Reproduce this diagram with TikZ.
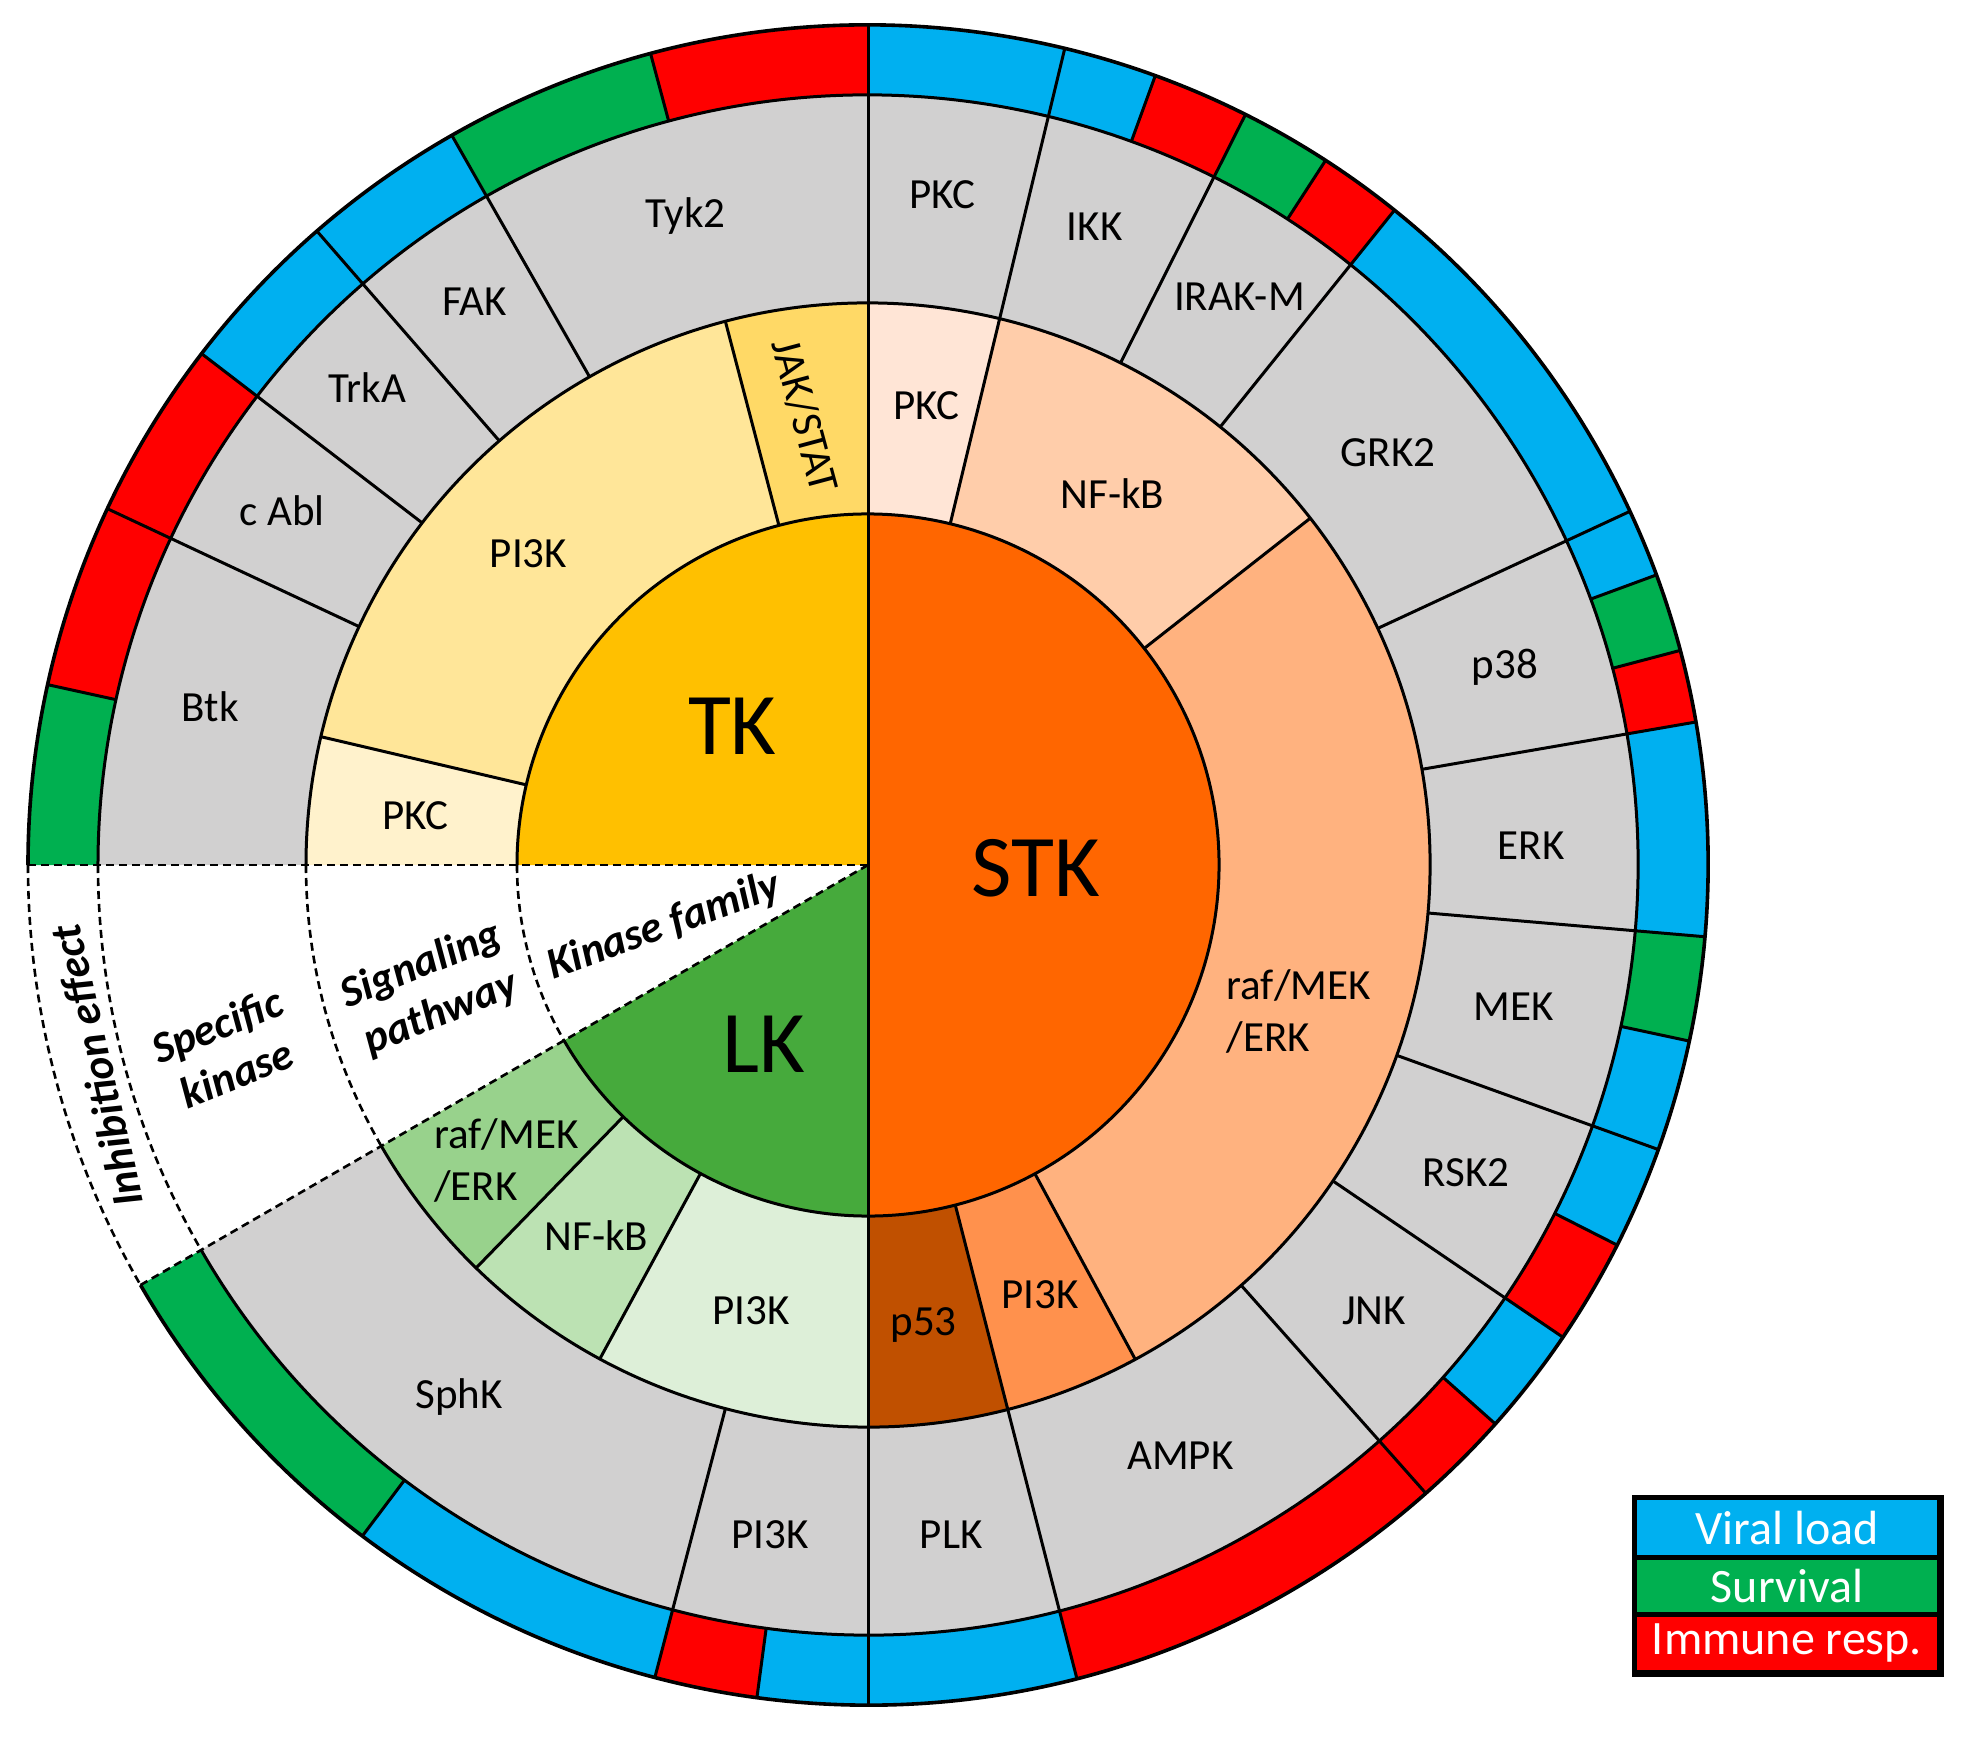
\documentclass[tikz,border=0pt]{standalone}
\usepackage{fontspec}
\setmainfont{Carlito}
\definecolor{cTK}{HTML}{FFC000}
\definecolor{cSTK}{HTML}{FF6600}
\definecolor{cLK}{HTML}{46AA3C}
\definecolor{cJAK}{HTML}{FFD966}
\definecolor{cTPI}{HTML}{FFE699}
\definecolor{cTPKC}{HTML}{FFF2CC}
\definecolor{cSPKC}{HTML}{FFE5D6}
\definecolor{cSNF}{HTML}{FFCDAA}
\definecolor{cSRAF}{HTML}{FFB27F}
\definecolor{cSPI}{HTML}{FF914D}
\definecolor{cP53}{HTML}{C05000}
\definecolor{cLPI}{HTML}{DDEFD8}
\definecolor{cLNF}{HTML}{BCE2B3}
\definecolor{cLRAF}{HTML}{98D28C}
\definecolor{cGray}{HTML}{D1D0D0}
\definecolor{cBlue}{HTML}{00B0F0}
\definecolor{cGreen}{HTML}{00B050}
\definecolor{cRed}{HTML}{FF0000}
\newcommand\annsec[5]{\fill[#5] (#3:#1) arc[start angle=#3,end angle=#4,radius=#1*0.5pt] -- (#4:#2) arc[start angle=#4,end angle=#3,radius=#2*0.5pt] -- cycle;}
\newcommand\piesec[4]{\fill[#4] (0,0) -- (#2:#1) arc[start angle=#2,end angle=#3,radius=#1*0.5pt] -- cycle;}
\begin{document}
\begin{tikzpicture}[x=0.5pt,y=0.5pt,
  bd/.style={line width=1.5pt,line join=round},
  dsh/.style={line width=1.3pt,dash pattern=on 4pt off 2.5pt},
  lab/.style={font=\fontsize{21.5}{26}\selectfont,inner sep=0pt},
  big/.style={font=\fontsize{44}{50}\selectfont,inner sep=0pt},
  ital/.style={font=\fontsize{22}{26}\selectfont\bfseries\itshape,align=center,inner sep=0pt},
  leg/.style={font=\fontsize{24}{28}\selectfont,text=white,inner sep=0pt}]
\useasboundingbox (-868,-880) rectangle (1105,865);
% level 1
\piesec{351}{90}{180}{cTK}
\piesec{351}{-90}{90}{cSTK}
\piesec{351}{210}{270}{cLK}
% level 2
\annsec{351}{562}{90}{104.7}{cJAK}
\annsec{351}{562}{104.7}{166.8}{cTPI}
\annsec{351}{562}{166.8}{180}{cTPKC}
\annsec{351}{562}{76.4}{90}{cSPKC}
\annsec{351}{562}{38.1}{76.4}{cSNF}
\annsec{351}{562}{-61.6}{38.1}{cSRAF}
\annsec{351}{562}{-75.6}{-61.6}{cSPI}
\annsec{351}{562}{-90}{-75.6}{cP53}
\annsec{351}{562}{-118.5}{-90}{cLPI}
\annsec{351}{562}{-134.2}{-118.5}{cLNF}
\annsec{351}{562}{-150}{-134.2}{cLRAF}
% level 3
\annsec{562}{770}{210}{540}{cGray}
% level 4
\annsec{770}{840}{90}{105}{cRed}
\annsec{770}{840}{105}{119.7}{cGreen}
\annsec{770}{840}{119.7}{142.5}{cBlue}
\annsec{770}{840}{142.5}{167.6}{cRed}
\annsec{770}{840}{167.6}{180}{cGreen}
\annsec{770}{840}{70}{90}{cBlue}
\annsec{770}{840}{63.3}{70}{cRed}
\annsec{770}{840}{57}{63.3}{cGreen}
\annsec{770}{840}{51.2}{57}{cRed}
\annsec{770}{840}{20.2}{51.2}{cBlue}
\annsec{770}{840}{14.8}{20.2}{cGreen}
\annsec{770}{840}{9.8}{14.8}{cRed}
\annsec{770}{840}{-4.9}{9.8}{cBlue}
\annsec{770}{840}{-12.1}{-4.9}{cGreen}
\annsec{770}{840}{-26.9}{-12.1}{cBlue}
\annsec{770}{840}{-34.2}{-26.9}{cRed}
\annsec{770}{840}{-41.7}{-34.2}{cBlue}
\annsec{770}{840}{-75.6}{-41.7}{cRed}
\annsec{770}{840}{-97.6}{-75.6}{cBlue}
\annsec{770}{840}{-104.7}{-97.6}{cRed}
\annsec{770}{840}{-127}{-104.7}{cBlue}
\annsec{770}{840}{-150}{-127}{cGreen}
% solid arcs
\foreach \r in {351,562,770} \draw[bd] (210:\r) arc[start angle=210,end angle=540,radius=\r*0.5pt];
\draw[line width=1.8pt] (210:840) arc[start angle=210,end angle=540,radius=420pt];
% radial lines
\draw[bd] (0,0) -- (90:840);
\draw[bd] (0,0) -- (-90:840);
\foreach \a in {104.7,166.8,38.1,-61.6,-118.5,-134.2} \draw[bd] (\a:351) -- (\a:562);
\draw[bd] (76.45:351) -- (76.45:840);
\draw[bd] (-75.6:351) -- (-75.6:840);
\foreach \a in {119.7,131,142.5,154.9,63.3,51.2,24.9,9.8,-4.9,-19.8,-34.2,-48.4,-104.7} \draw[bd] (\a:562) -- (\a:840);
\foreach \a in {105,167.6,70,57,20.2,14.8,-12.1,-26.9,-41.7,-97.6,-127} \draw[bd] (\a:770) -- (\a:840);
% dashed white wedge borders
\foreach \r in {351,562,770,840} \draw[dsh] (180:\r) arc[start angle=180,end angle=210,radius=\r*0.5pt];
\draw[dsh] (0,0) -- (180:840);
\draw[dsh] (0,0) -- (210:840);
% kinase family labels
\node[big] (tk) at (-135.7,139) {TK};
\node[big] (stk) at (167.6,-3.2) {STK};
\node[big] (lk) at (-104.2,-179.4) {LK};
% signaling pathway labels
\node[lab,rotate=-75] (jak) at (-63,449.3) {JAK/STAT};
\node[lab] (tpi) at (-339.5,311.3) {PI3K};
\node[lab] (tpkc) at (-452.8,49.6) {PKC};
\node[lab] (spkc) at (58.1,459.8) {PKC};
\node[lab] (snf) at (244.3,371.7) {NF-kB};
\node[lab,align=left] (sraf) at (430.6,-146.7) {raf/MEK\\/ERK};
\node[lab] (spi) at (172,-430) {PI3K};
\node[lab] (p53) at (55.6,-460) {p53};
\node[lab] (lpi) at (-116.8,-446.1) {PI3K};
\node[lab] (lnf) at (-271.6,-370.7) {NF-kB};
\node[lab,align=left] (lraf) at (-361.5,-295) {raf/MEK\\/ERK};
% specific kinase labels
\node[lab] (tyk) at (-182.2,648.6) {Tyk2};
\node[lab] (fak) at (-393.6,563) {FAK};
\node[lab] (trka) at (-500.6,477.4) {TrkA};
\node[lab] (cabl) at (-586.1,354.1) {c Abl};
\node[lab] (btk) at (-657.9,157.8) {Btk};
\node[lab] (pkc) at (74.5,670) {PKC};
\node[lab] (ikk) at (226.7,638.5) {IKK};
\node[lab] (irak) at (371.4,568) {IRAK-M};
\node[lab] (grk) at (519.9,412) {GRK2};
\node[lab] (p38) at (636.9,198.1) {p38};
\node[lab] (erk) at (663.3,19.4) {ERK};
\node[lab] (mek) at (645.7,-141.6) {MEK};
\node[lab] (rsk) at (597.9,-307.7) {RSK2};
\node[lab] (jnk) at (506,-446.1) {JNK};
\node[lab] (ampk) at (312.3,-590.9) {AMPK};
\node[lab] (plk) at (83.3,-670.1) {PLK};
\node[lab] (gpi) at (-98,-670.1) {PI3K};
\node[lab] (sphk) at (-408.7,-531.7) {SphK};
% white wedge labels
\node[ital,rotate=20] (kf) at (196.8:213) {Kinase family};
\node[ital,rotate=22] (sp) at (195.9:454) {Signaling\\pathway};
\node[ital,rotate=22] (sk) at (196:667) {Specific\\kinase};
\node[ital,rotate=103] (ie) at (194.6:797) {Inhibition effect};
% legend
\fill[black] (764,-630) rectangle (1076,-812);
\fill[cBlue] (768.7,-635) rectangle (1069.3,-690);
\fill[cGreen] (768.7,-695) rectangle (1069.3,-746.7);
\fill[cRed] (768.7,-751.7) rectangle (1069.3,-805);
\node[leg] (l1) at (919,-662.5) {Viral load};
\node[leg] (l2) at (919,-720.8) {Survival};
\node[leg] (l3) at (919,-778.3) {Immune resp.};
\end{tikzpicture}
\end{document}
